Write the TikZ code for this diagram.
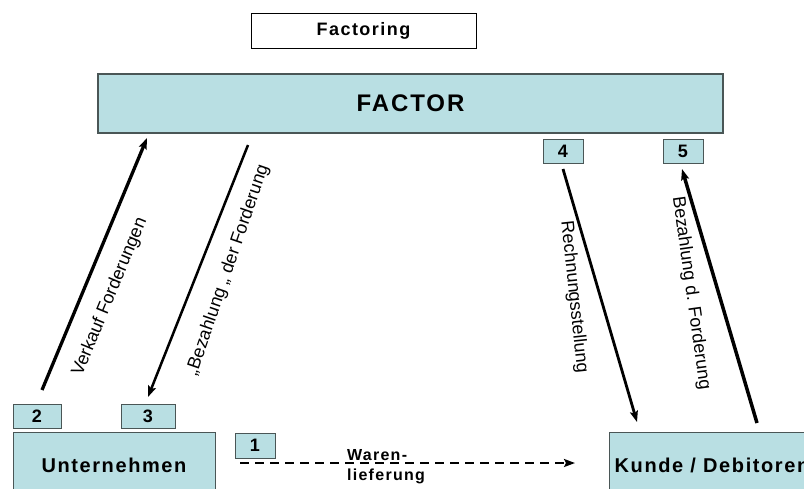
\documentclass[tikz,border=0pt]{standalone}
\usepackage{fontspec}
\setmainfont{Liberation Sans}
\newfontfamily\boxfont[LetterSpace=8]{Liberation Sans Bold}
\usetikzlibrary{arrows.meta}
\definecolor{factorfill}{HTML}{B9DFE3}
\definecolor{factorline}{HTML}{4A5656}

\begin{document}
\begin{tikzpicture}[x=1pt,y=-1pt,
    >={Stealth[length=11pt,width=8pt,inset=2pt]},
    partner/.style={draw=factorline,line width=1pt,fill=factorfill,inner sep=0pt,font=\boxfont\fontsize{20}{20}\selectfont},
    numbox/.style={draw=factorline,line width=0.8pt,fill=factorfill,inner sep=0pt,minimum height=24pt,font=\boxfont\fontsize{18}{18}\selectfont},
    flow/.style={->,line width=3pt},
    flowlabel/.style={font=\fontsize{18}{18}\selectfont,inner sep=0pt}]
  \clip (0,0) rectangle (804,488);
  \useasboundingbox (0,0) rectangle (804,488);

  % titel
  \node (title) [draw=black,line width=0.8pt,minimum width=225pt,minimum height=35pt,inner sep=0pt,
        font=\boxfont\fontsize{18}{18}\selectfont] at (363.5,30.5) {Factoring};
  \node (factor) [partner,minimum width=625pt,minimum height=59pt,line width=1.5pt,
        font=\boxfont\fontsize{24}{24}\selectfont] at (410.5,103.5) {FACTOR};

  % partner unten
  \node (firma) [partner,minimum width=202pt,minimum height=66pt] at (114,465) {Unternehmen};
  \node (kunde) [partner,minimum width=206pt,minimum height=66pt] at (712,465) {Kunde / Debitoren};

  % nummern
  \node (n1) [numbox,minimum width=40pt,minimum height=25pt] at (255,445.5) {1};
  \node (n2) [numbox,minimum width=48pt] at (37,416) {2};
  \node (n3) [numbox,minimum width=54pt] at (148,416) {3};
  \node (n4) [numbox,minimum width=40pt] at (563,151) {4};
  \node (n5) [numbox,minimum width=40pt] at (683,151) {5};

  % endpunkte der pfeile
  \coordinate (verkaufA) at (42,390);   \coordinate (verkaufB) at (147,138);
  \coordinate (zahlA) at (248,145);     \coordinate (zahlB) at (148,397);
  \coordinate (rechnA) at (563,169);    \coordinate (rechnB) at (637,422);
  \coordinate (debA) at (757,423);      \coordinate (debB) at (682,169);
  \coordinate (wareA) at (240,463);     \coordinate (wareB) at (575,463);

  \draw [flow,line width=3.3pt] (verkaufA) -- (verkaufB);
  \draw [flow,line width=2.5pt] (zahlA) -- (zahlB);
  \draw [flow,line width=2.8pt] (rechnA) -- (rechnB);
  \draw [flow,line width=3.5pt] (debA) -- (debB);
  \draw [->,line width=2pt,dash pattern=on 9pt off 6pt] (wareA) -- (wareB);

  % beschriftungen
  \node (lverkauf) [flowlabel,rotate=67.5] at (110,297) {Verkauf Forderungen};
  \node (lzahl) [flowlabel,rotate=71] at (228,270) {„Bezahlung „ der Forderung};
  \node (lrechn) [flowlabel,rotate=-84] at (574,297) {Rechnungsstellung};
  \node (ldeb) [flowlabel,rotate=-82] at (691,293) {Bezahlung d. Forderung};
  \node (lware) [align=left,inner sep=0pt,font=\boxfont\fontsize{16}{20}\selectfont] at (386,467) {Waren-\\lieferung};
\end{tikzpicture}
\end{document}
